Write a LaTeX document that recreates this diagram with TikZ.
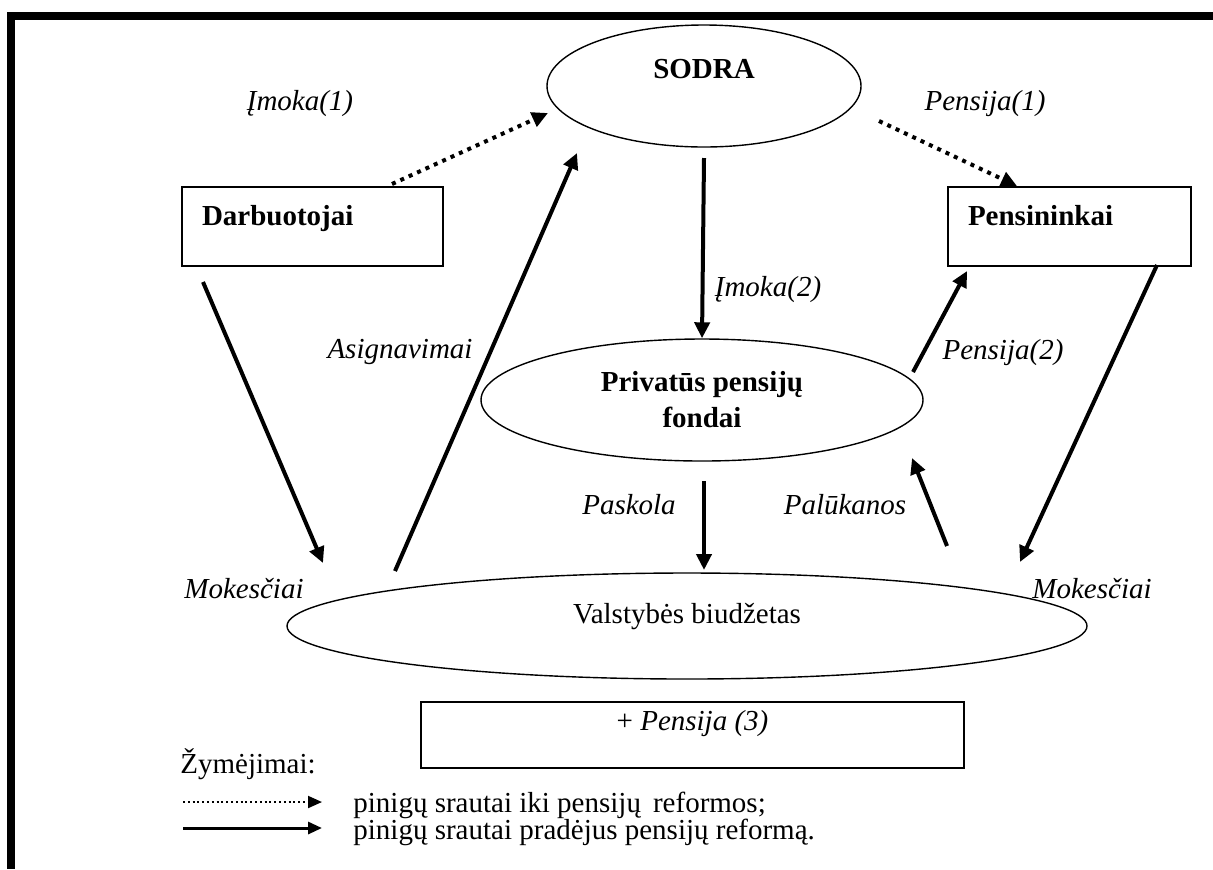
\documentclass[tikz,border=0pt]{standalone}
\usepackage{fontspec}
\setmainfont{Liberation Serif}
\usetikzlibrary{arrows.meta,shapes,calc}

\newcommand{\sriftas}{\fontsize{14.5}{18}\selectfont}

\tikzset{
	blokas/.style={rectangle, draw, line width=0.7pt, minimum height=39.5pt, inner xsep=10pt, align=left, font=\sriftas\bfseries, text height=10pt, text depth=11.5pt},
	ovalas/.style={ellipse, draw, line width=0.7pt, inner sep=0pt},
	srautas/.style={line width=2pt, -{Triangle[length=8pt,width=7.5pt]}},
	taskuotas/.style={srautas, dash pattern=on 2pt off 2.6pt},
	zyme/.style={font=\sriftas\itshape},
	tekstas/.style={font=\sriftas, inner sep=0pt, anchor=base west}
}

\begin{document}
\begin{tikzpicture}[x=0.5pt, y=-0.5pt]
	\useasboundingbox (0,0) rectangle (1213,869);
	\fill (7,12) rectangle (1213,20);
	\fill (7,12) rectangle (15,869);

	\path (704,86) node[ovalas, minimum width=157pt, minimum height=61pt, font=\sriftas\bfseries, text height=10pt, text depth=18pt] (sodra) {SODRA}
		(702,400) node[ovalas, minimum width=221pt, minimum height=61pt, font=\sriftas\bfseries, align=center] (fondai) {Privatūs pensijų\\fondai}
		(687,626) node[ovalas, minimum width=400pt, minimum height=53pt, font=\sriftas, text height=10pt, text depth=13pt] (biudzetas) {Valstybės biudžetas}
		(312.5,226.5) node[blokas, minimum width=130.5pt, text width=110.5pt] (darb) {Darbuotojai}
		(1069.5,226.5) node[blokas, minimum width=121.5pt, text width=101.5pt] (pens) {Pensininkai}
		(692.5,735) node[rectangle, draw, line width=0.7pt, minimum width=271.5pt, minimum height=33pt, inner sep=0pt, font=\sriftas, text height=9pt, text depth=14pt] (pensija3) {+ \textit{Pensija (3)}};

	\path (300,104) node[zyme] (imoka1) {Įmoka(1)}
		(985,104) node[zyme] (pensija1) {Pensija(1)}
		(768,290) node[zyme] (imoka2) {Įmoka(2)}
		(400,352) node[zyme] (asign) {Asignavimai}
		(1003,353) node[zyme] (pensija2) {Pensija(2)}
		(629,505) node[zyme] (paskola) {Paskola}
		(845,505) node[zyme] (palukanos) {Palūkanos}
		(244,589) node[zyme] (mokesciai1) {Mokesčiai}
		(1092,589) node[zyme] (mokesciai2) {Mokesčiai};

	\coordinate (d1) at (203,282);
	\coordinate (d2) at (323,563);
	\coordinate (a1) at (395,571);
	\coordinate (a2) at (577,153);
	\coordinate (i1) at (392,184);
	\coordinate (i2) at (548,113);
	\coordinate (p1) at (879,121);
	\coordinate (p2) at (1017,186);
	\coordinate (s1) at (704,158);
	\coordinate (f1) at (704,481);
	\coordinate (f2) at (704,570);
	\coordinate (f3) at (913,372);
	\coordinate (f4) at (967,271);
	\coordinate (b1) at (947,546);
	\coordinate (b2) at (912,458);
	\coordinate (n1) at (1157,265);
	\coordinate (n2) at (1020,562);

	\draw[taskuotas] (i1) -- (i2);
	\draw[taskuotas] (p1) -- (p2);
	\draw[srautas] (d1) -- (d2);
	\draw[srautas] (a1) -- (a2);
	\draw[srautas] (s1) -- (fondai.north);
	\draw[srautas] (f1) -- (f2);
	\draw[srautas] (f3) -- (f4);
	\draw[srautas] (b1) -- (b2);
	\draw[srautas] (n1) -- (n2);

	\node[tekstas] (zymejimai) at (180,773) {Žymėjimai:};
	\node[tekstas] (iki) at (353,812) {pinigų srautai iki pensijų\, reformos;};
	\node[tekstas] (pradejus) at (353,839) {pinigų srautai pradėjus pensijų reformą.};
	\coordinate (ld1) at (183,802);
	\coordinate (ld2) at (322,802);
	\coordinate (ls1) at (183,828);
	\coordinate (ls2) at (322,828);
	\draw[line width=1pt, dash pattern=on 1pt off 1.4pt, -{Triangle[length=7pt,width=6pt]}] (ld1) -- (ld2);
	\draw[line width=1.5pt, -{Triangle[length=7pt,width=6pt]}] (ls1) -- (ls2);
\end{tikzpicture}
\end{document}
